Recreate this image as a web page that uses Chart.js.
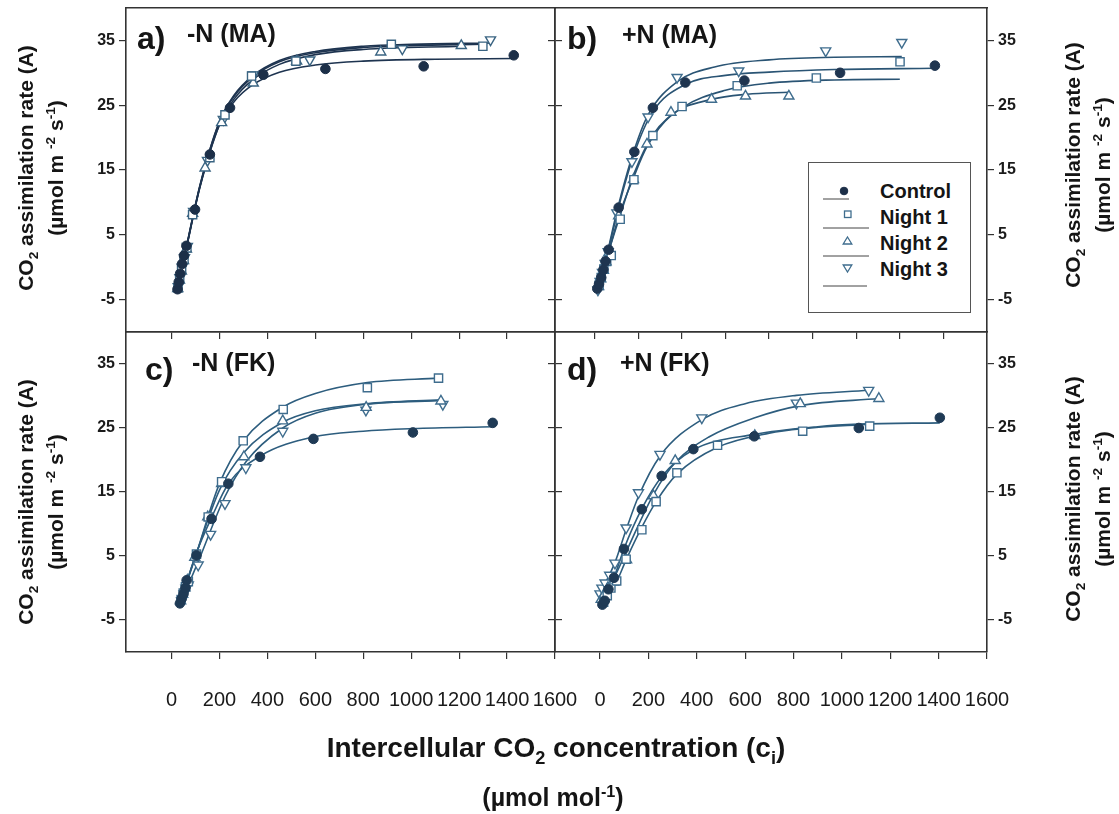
<!DOCTYPE html>
<html>
<head>
<meta charset="utf-8">
<script src="https://cdn.jsdelivr.net/npm/chart.js@4.4.1/dist/chart.umd.min.js"></script>
<style>
  html, body { margin: 0; padding: 0; background: #fff; }
  #page { position: relative; width: 1119px; height: 814px; overflow: hidden; }
  canvas { position: absolute; left: 0; top: 0; }
  .t { position: absolute; font-family: 'Liberation Sans', Arial, sans-serif; font-weight: bold; color: #151515; white-space: nowrap; line-height: 1; }
  .ytitle { position: absolute; width: 360px; height: 60px; font-family: 'Liberation Sans', Arial, sans-serif; font-weight: bold;
            font-size: 21px; line-height: 30px; text-align: center; color: #151515; transform: rotate(-90deg); white-space: nowrap; }
  sub, sup { font-size: 65%; line-height: 0; }
  #legend { position: absolute; left: 808px; top: 162px; width: 161px; height: 149px; border: 1px solid #555; background: #fff; }
</style>
</head>
<body>
<div id="page">
  <canvas id="pa" width="1119" height="814"></canvas>
  <canvas id="pb" width="1119" height="814"></canvas>
  <canvas id="pc" width="1119" height="814"></canvas>
  <canvas id="pd" width="1119" height="814"></canvas>

  <!-- panel captions -->
  <div class="t" style="left:137px;top:22px;font-size:32px">a)</div>
  <div class="t" style="left:187px;top:21px;font-size:25px">-N (MA)</div>
  <div class="t" style="left:567px;top:22px;font-size:32px">b)</div>
  <div class="t" style="left:622px;top:22px;font-size:25px">+N (MA)</div>
  <div class="t" style="left:145px;top:353px;font-size:32px">c)</div>
  <div class="t" style="left:192px;top:350px;font-size:25px">-N (FK)</div>
  <div class="t" style="left:567px;top:353px;font-size:32px">d)</div>
  <div class="t" style="left:620px;top:350px;font-size:25px">+N (FK)</div>

  <!-- y titles -->
  <div class="ytitle" style="left:-139px;top:138px">CO<sub>2</sub> assimilation rate (A)<br>(µmol m <sup>-2</sup> s<sup>-1</sup>)</div>
  <div class="ytitle" style="left:-139px;top:472px">CO<sub>2</sub> assimilation rate (A)<br>(µmol m <sup>-2</sup> s<sup>-1</sup>)</div>
  <div class="ytitle" style="left:908px;top:135px">CO<sub>2</sub> assimilation rate (A)<br>(µmol m <sup>-2</sup> s<sup>-1</sup>)</div>
  <div class="ytitle" style="left:908px;top:469px">CO<sub>2</sub> assimilation rate (A)<br>(µmol m <sup>-2</sup> s<sup>-1</sup>)</div>

  <!-- x title -->
  <div class="t" style="left:0;width:1112px;text-align:center;top:734px;font-size:28px">Intercellular CO<sub>2</sub> concentration (c<sub>i</sub>)</div>
  <div class="t" style="left:0;width:1106px;text-align:center;top:785px;font-size:25px">(µmol mol<sup>-1</sup>)</div>

  <!-- legend of panel b -->
  <div id="legend">
    <svg width="161" height="149" style="position:absolute;left:0;top:0">
      <circle cx="35" cy="28" r="3.8" fill="#1c2f48" stroke="#1c2f48"/>
      <line x1="14" y1="36" x2="40" y2="36" stroke="#444" stroke-width="1"/>
      <rect x="35.5" y="48" width="6.5" height="6.5" fill="#fff" stroke="#3f6d8e" stroke-width="1.3"/>
      <line x1="14" y1="65" x2="60" y2="65" stroke="#444" stroke-width="1"/>
      <polygon points="38.5,74 42.8,81 34.2,81" fill="#fff" stroke="#3f6d8e" stroke-width="1.3"/>
      <line x1="14" y1="93" x2="60" y2="93" stroke="#444" stroke-width="1"/>
      <polygon points="34.2,102 42.8,102 38.5,109" fill="#fff" stroke="#3f6d8e" stroke-width="1.3"/>
      <line x1="14" y1="123" x2="58" y2="123" stroke="#444" stroke-width="1"/>
    </svg>
    <div class="t" style="left:71px;top:18px;font-size:20px">Control</div>
    <div class="t" style="left:71px;top:44px;font-size:20px">Night 1</div>
    <div class="t" style="left:71px;top:70px;font-size:20px">Night 2</div>
    <div class="t" style="left:71px;top:96px;font-size:20px">Night 3</div>
  </div>
</div>

<script>
// ---- axes ----
const yTicks = [-5, 5, 15, 25, 35];
const xTicks = [0, 200, 400, 600, 800, 1000, 1200, 1400, 1600];

// ---- panel a: -N (MA) ----
const aCtrlX = [25, 30, 36, 44, 52, 62, 98, 160, 244, 383, 642, 1052, 1428];
const aCtrlY = [-3.4, -2.3, -1.0, 0.5, 1.8, 3.3, 8.9, 17.4, 24.6, 29.7, 30.6, 31.0, 32.7];
const aN1X = [27, 34, 42, 52, 64, 88, 160, 223, 334, 519, 917, 1299];
const aN1Y = [-3.2, -1.8, -0.3, 1.2, 3.0, 8.1, 16.9, 23.5, 29.5, 31.8, 34.4, 34.1];
const aN2X = [26, 33, 41, 50, 62, 88, 140, 209, 341, 522, 873, 1209];
const aN2Y = [-3.3, -2.0, -0.6, 1.0, 2.8, 8.3, 15.3, 22.3, 28.4, 31.8, 33.2, 34.2];
const aN3X = [28, 35, 44, 54, 66, 92, 150, 216, 341, 577, 963, 1331];
const aN3Y = [-3.0, -1.6, 0.0, 1.5, 3.2, 8.6, 16.5, 22.8, 29.7, 32.0, 33.7, 35.1];
const aFitCtrlX = [25, 63, 119, 200, 260, 341, 450, 600, 800, 1100, 1428];
const aFitCtrlY = [-3.2, 3.2, 12.5, 22.0, 25.5, 28.2, 30.1, 31.2, 31.8, 32.1, 32.2];
const aFitN1X = [27, 63, 119, 200, 260, 341, 450, 600, 800, 1000, 1299];
const aFitN1Y = [-3.2, 3.2, 12.6, 22.4, 26.3, 29.4, 31.7, 33.1, 33.9, 34.2, 34.4];
const aFitN2X = [26, 63, 119, 200, 260, 341, 450, 600, 800, 1209];
const aFitN2Y = [-3.2, 3.1, 12.4, 22.0, 25.9, 29.0, 31.3, 32.8, 33.6, 34.1];
const aFitN3X = [28, 63, 119, 200, 260, 341, 450, 600, 800, 1000, 1331];
const aFitN3Y = [-3.0, 3.3, 12.7, 22.5, 26.5, 29.6, 31.9, 33.3, 34.1, 34.4, 34.6];

// ---- panel b: +N (MA) ----
const bCtrlX = [12, 20, 30, 40, 50, 64, 110, 182, 267, 416, 687, 1126, 1561];
const bCtrlY = [-3.3, -2.6, -1.6, -0.4, 0.9, 2.7, 9.2, 17.8, 24.6, 28.5, 28.8, 30.0, 31.1];
const bN1X = [20, 30, 42, 55, 76, 117, 180, 267, 401, 654, 1017, 1401];
const bN1Y = [-2.8, -1.6, -0.3, 0.9, 1.8, 7.4, 13.5, 20.3, 24.8, 28.0, 29.2, 31.7];
const bN2X = [18, 28, 40, 52, 66, 110, 178, 240, 350, 536, 692, 891];
const bN2Y = [-3.0, -1.8, -0.5, 0.8, 2.3, 7.9, 13.5, 19.0, 23.9, 25.9, 26.4, 26.4];
const bN3X = [15, 25, 36, 48, 62, 102, 171, 245, 378, 661, 1060, 1409];
const bN3Y = [-3.5, -2.2, -0.8, 0.6, 2.4, 8.4, 16.3, 23.2, 29.3, 30.3, 33.4, 34.7];
const bFitCtrlX = [12, 64, 110, 182, 267, 416, 600, 800, 1100, 1556];
const bFitCtrlY = [-3.3, 2.8, 9.3, 17.6, 24.0, 28.2, 29.6, 30.1, 30.5, 30.7];
const bFitN1X = [20, 64, 117, 180, 267, 400, 600, 800, 1100, 1400];
const bFitN1Y = [-2.8, 2.4, 8.0, 14.4, 20.4, 24.6, 27.3, 28.4, 28.9, 29.0];
const bFitN2X = [18, 64, 110, 178, 240, 350, 536, 700, 891];
const bFitN2Y = [-3.0, 2.3, 7.8, 13.8, 18.6, 23.4, 25.9, 26.7, 27.0];
const bFitN3X = [15, 62, 102, 171, 245, 378, 550, 800, 1100, 1409];
const bFitN3Y = [-3.5, 2.8, 8.6, 17.0, 23.5, 28.6, 30.9, 32.0, 32.4, 32.5];

// ---- panel c: -N (FK) ----
const cCtrlX = [35, 42, 50, 58, 63, 104, 167, 237, 369, 592, 1007, 1340];
const cCtrlY = [-2.4, -1.7, -0.9, 0.0, 1.2, 5.1, 10.8, 16.3, 20.5, 23.3, 24.3, 25.8];
const cN1X = [40, 49, 58, 70, 104, 153, 209, 299, 466, 817, 1114];
const cN1Y = [-1.8, -0.8, 0.2, 1.0, 5.3, 11.1, 16.6, 23.0, 27.9, 31.3, 32.8];
const cN2X = [38, 46, 56, 66, 97, 151, 209, 302, 464, 812, 1124];
const cN2Y = [-2.0, -1.0, 0.0, 1.2, 4.8, 11.1, 16.3, 20.5, 26.1, 28.2, 29.2];
const cN3X = [42, 52, 60, 70, 111, 163, 223, 310, 464, 811, 1132];
const cN3Y = [-2.0, -0.9, 0.0, 0.5, 3.6, 8.4, 13.2, 18.8, 24.5, 27.8, 28.7];
const cFitCtrlX = [35, 104, 167, 237, 369, 592, 800, 1007, 1340];
const cFitCtrlY = [-2.4, 5.5, 11.0, 16.3, 20.6, 23.6, 24.5, 24.9, 25.2];
const cFitN1X = [40, 100, 200, 300, 466, 600, 817, 1114];
const cFitN1Y = [-1.8, 4.9, 16.3, 23.0, 28.3, 30.4, 32.1, 32.8];
const cFitN2X = [38, 100, 200, 300, 464, 600, 812, 1124];
const cFitN2Y = [-2.0, 5.0, 15.3, 21.1, 25.9, 27.7, 28.8, 29.4];
const cFitN3X = [42, 111, 223, 310, 464, 600, 811, 1132];
const cFitN3Y = [-2.0, 4.1, 14.3, 19.7, 25.0, 27.3, 28.7, 29.3];

// ---- panel d: +N (FK) ----
const dCtrlX = [10, 20, 35, 58, 99, 173, 255, 386, 638, 1070, 1405];
const dCtrlY = [-2.6, -2.0, -0.2, 1.6, 6.1, 12.3, 17.5, 21.7, 23.7, 25.0, 26.6];
const dN1X = [15, 30, 45, 69, 108, 173, 232, 318, 486, 838, 1115];
const dN1Y = [-2.2, -1.2, 0.0, 1.1, 4.5, 9.1, 13.5, 18.0, 22.3, 24.5, 25.3];
const dN2X = [5, 18, 32, 56, 110, 221, 311, 640, 828, 1153];
const dN2Y = [-1.8, -1.0, 0.0, 0.9, 4.4, 14.4, 19.9, 23.8, 28.8, 29.6];
const dN3X = [0, 8, 21, 40, 62, 108, 159, 248, 421, 812, 1111];
const dN3Y = [-0.9, 0.0, 0.8, 2.0, 3.9, 9.4, 14.9, 20.9, 26.6, 28.9, 30.9];
const dFitCtrlX = [10, 58, 99, 173, 255, 386, 638, 900, 1070, 1405];
const dFitCtrlY = [-2.6, 1.6, 6.1, 12.4, 17.4, 21.6, 24.0, 25.2, 25.6, 25.8];
const dFitN1X = [15, 69, 108, 173, 232, 318, 486, 700, 838, 1115];
const dFitN1Y = [-2.2, 1.0, 4.4, 9.5, 13.5, 17.8, 22.0, 24.2, 24.9, 25.6];
const dFitN2X = [5, 56, 110, 221, 311, 450, 640, 828, 1153];
const dFitN2Y = [-1.8, 1.4, 5.8, 14.6, 19.6, 23.6, 26.6, 28.5, 29.6];
const dFitN3X = [0, 62, 108, 159, 248, 421, 600, 812, 1111];
const dFitN3Y = [-0.9, 4.0, 9.1, 14.3, 20.6, 26.3, 28.8, 30.1, 30.9];

const W = 1119, H = 814;
const AXIS_COLOR = '#333';
const Y_LABEL_W = 60, X_LABEL_H = 60;

function zip(xs, ys) {
    return xs.map((x, i) => ({ x: x, y: ys[i] }));
}

// marker look for each treatment
const MARKERS = [
    { style: 'circle', radius: 4.8, rotation: 0, filled: true },   // Control
    { style: 'rect', radius: 5.8, rotation: 0, filled: false },    // Night 1
    { style: 'triangle', radius: 5.8, rotation: 0, filled: false },  // Night 2
    { style: 'triangle', radius: 5.8, rotation: 180, filled: false } // Night 3
];

function fixedTicks(values) {
    return function (scale) {
        scale.ticks = values.map(v => ({ value: v }));
    };
}

// keep the plot frame exactly where it is, no room reserved for label overhang
function fixSize(w, h) {
    return function (scale) {
        if (w !== null) scale.width = w;
        if (h !== null) scale.height = h;
        scale.paddingTop = 0;
        scale.paddingBottom = 0;
        scale.paddingLeft = 0;
        scale.paddingRight = 0;
    };
}

function buildPanel(id, p) {
    const datasets = [];
    p.points.forEach((pts, i) => {
        const m = MARKERS[i];
        datasets.push({
            data: pts,
            showLine: false,
            order: 1,
            pointStyle: m.style,
            pointRadius: m.radius,
            pointRotation: m.rotation,
            pointBackgroundColor: m.filled ? p.dark : '#fff',
            pointBorderColor: m.filled ? p.dark : p.open,
            pointBorderWidth: m.filled ? 1 : 1.4
        });
    });
    p.fits.forEach(fit => {
        datasets.push({
            data: fit,
            showLine: true,
            order: 2,
            pointRadius: 0,
            borderColor: p.line,
            borderWidth: 1.6,
            fill: false,
            cubicInterpolationMode: 'monotone'
        });
    });

    const gridOpts = { drawOnChartArea: false, drawTicks: true, tickLength: 7, color: AXIS_COLOR, lineWidth: 1.2 };
    const borderOpts = { display: true, color: AXIS_COLOR, width: 1.6 };
    const ySide = p.yRight ? 'right' : 'left';
    const yOther = p.yRight ? 'left' : 'right';

    new Chart(document.getElementById(id), {
        type: 'scatter',
        data: { datasets: datasets },
        options: {
            responsive: false,
            animation: false,
            devicePixelRatio: 1,
            events: [],
            layout: {
                padding: {
                    left: p.yRight ? p.area.left : p.area.left - Y_LABEL_W,
                    right: p.yRight ? W - p.area.right - Y_LABEL_W : W - p.area.right,
                    top: p.area.top,
                    bottom: H - p.area.bottom - (p.xLabels ? X_LABEL_H : 0)
                }
            },
            plugins: { legend: { display: false }, tooltip: { enabled: false } },
            scales: {
                x: {
                    type: 'linear', position: 'bottom', min: p.xMin, max: p.xMax,
                    afterBuildTicks: fixedTicks(xTicks),
                    afterFit: fixSize(null, p.xLabels ? X_LABEL_H : 0),
                    grid: gridOpts, border: borderOpts,
                    ticks: {
                        display: p.xLabels, padding: 29, color: '#1a1a1a', maxRotation: 0,
                        font: { family: "'Liberation Sans', Arial", size: 20 },
                        callback: v => String(v)
                    }
                },
                xTop: {
                    type: 'linear', position: 'top', min: p.xMin, max: p.xMax,
                    afterFit: fixSize(null, 0),
                    grid: { display: false, drawTicks: false }, border: borderOpts,
                    ticks: { display: false }
                },
                y: {
                    type: 'linear', position: ySide, min: -10, max: 40,
                    afterBuildTicks: fixedTicks(yTicks),
                    afterFit: fixSize(Y_LABEL_W, null),
                    grid: gridOpts, border: borderOpts,
                    ticks: {
                        padding: 4, color: '#1a1a1a',
                        font: { family: "'Liberation Sans', Arial", size: 16, weight: 'bold' }
                    }
                },
                y2: {
                    type: 'linear', position: yOther, min: -10, max: 40,
                    afterBuildTicks: fixedTicks(yTicks),
                    afterFit: fixSize(0, null),
                    grid: gridOpts, border: borderOpts,
                    ticks: { display: false }
                }
            }
        }
    });
}

buildPanel('pa', {
    area: { left: 126, right: 555, top: 8, bottom: 332 },
    xMin: -190, xMax: 1600, xLabels: false, yRight: false,
    dark: '#1c2f48', open: '#3a6482', line: '#1e3450',
    points: [zip(aCtrlX, aCtrlY), zip(aN1X, aN1Y), zip(aN2X, aN2Y), zip(aN3X, aN3Y)],
    fits: [zip(aFitCtrlX, aFitCtrlY), zip(aFitN1X, aFitN1Y), zip(aFitN2X, aFitN2Y), zip(aFitN3X, aFitN3Y)]
});
buildPanel('pb', {
    area: { left: 555, right: 987, top: 8, bottom: 332 },
    xMin: -182, xMax: 1800, xLabels: false, yRight: true,
    dark: '#1f3550', open: '#3f6d8e', line: '#2a5474',
    points: [zip(bCtrlX, bCtrlY), zip(bN1X, bN1Y), zip(bN2X, bN2Y), zip(bN3X, bN3Y)],
    fits: [zip(bFitCtrlX, bFitCtrlY), zip(bFitN1X, bFitN1Y), zip(bFitN2X, bFitN2Y), zip(bFitN3X, bFitN3Y)]
});
buildPanel('pc', {
    area: { left: 126, right: 555, top: 332, bottom: 652 },
    xMin: -190, xMax: 1600, xLabels: true, yRight: false,
    dark: '#1f3a55', open: '#3f6d8e', line: '#2d5d7e',
    points: [zip(cCtrlX, cCtrlY), zip(cN1X, cN1Y), zip(cN2X, cN2Y), zip(cN3X, cN3Y)],
    fits: [zip(cFitCtrlX, cFitCtrlY), zip(cFitN1X, cFitN1Y), zip(cFitN2X, cFitN2Y), zip(cFitN3X, cFitN3Y)]
});
buildPanel('pd', {
    area: { left: 555, right: 987, top: 332, bottom: 652 },
    xMin: -186, xMax: 1600, xLabels: true, yRight: true,
    dark: '#1f3a55', open: '#3f6d8e', line: '#2d5d7e',
    points: [zip(dCtrlX, dCtrlY), zip(dN1X, dN1Y), zip(dN2X, dN2Y), zip(dN3X, dN3Y)],
    fits: [zip(dFitCtrlX, dFitCtrlY), zip(dFitN1X, dFitN1Y), zip(dFitN2X, dFitN2Y), zip(dFitN3X, dFitN3Y)]
});
</script>
</body>
</html>
